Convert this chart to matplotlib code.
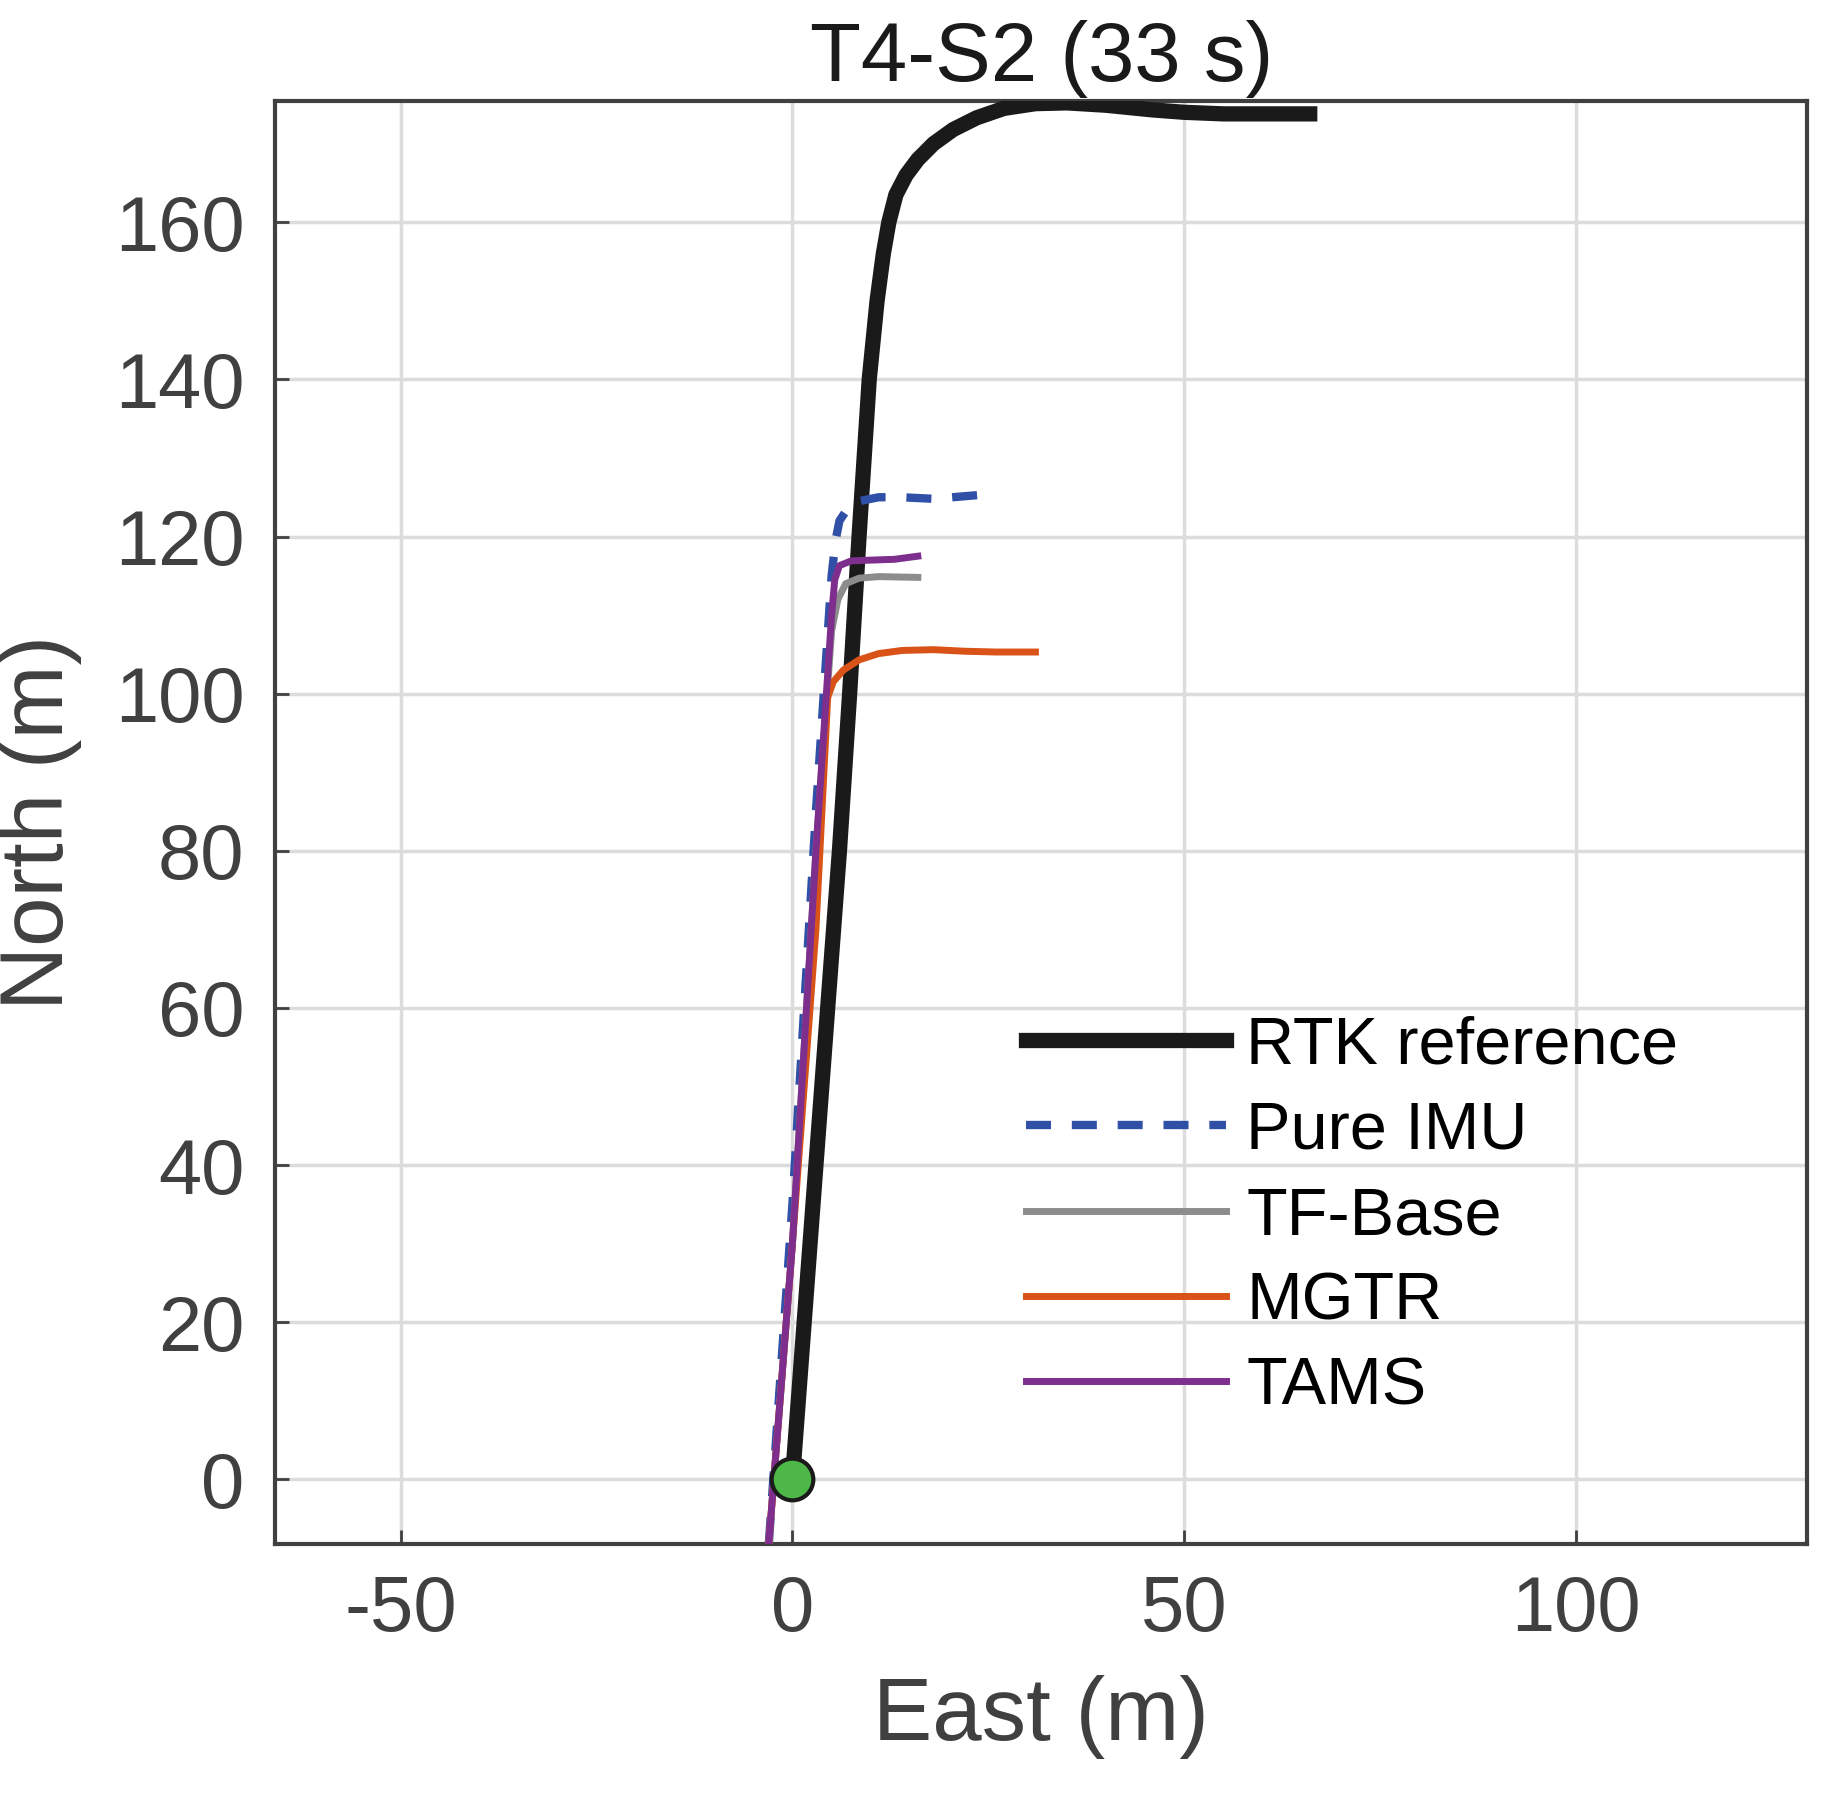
import matplotlib.pyplot as plt

plt.rcParams['font.family'] = ['Liberation Sans', 'DejaVu Sans']
plt.rcParams['axes.unicode_minus'] = False

# Trajectories (East, North) in metres
rtk_e = [0, 1.5, 3, 4.5, 6, 7.3, 8.5, 9.8, 10.8, 11.6, 12.3, 13.2, 14.5, 16, 18, 20.5, 23.5, 27, 31, 35, 40, 46, 50, 55, 66]
rtk_n = [0, 20, 40, 60, 80, 100, 120, 140, 150, 156, 160, 163.5, 166, 168, 170, 171.8, 173.3, 174.5, 175.1, 175.2, 174.9, 174.3, 174, 173.8, 173.8]

imu_e = [-3, 0, 3, 5, 5.5, 6, 7, 8.5, 11, 14, 18, 24]
imu_n = [-8, 35, 85, 115, 119.5, 122, 123.5, 124.5, 125, 125, 124.8, 125.3]

tf_e = [-3, 0, 3, 5, 5.8, 6.8, 8.5, 11, 16]
tf_n = [-8, 30, 80, 108, 112, 114, 114.7, 114.9, 114.8]

mgtr_e = [-3, 0, 3, 4.5, 5.2, 6.5, 8.5, 11, 14, 18, 22, 26, 31]
mgtr_n = [-8, 30, 70, 99.5, 101.5, 103, 104.3, 105.1, 105.5, 105.6, 105.4, 105.3, 105.3]

tams_e = [-3, 0, 3, 5, 5.4, 6, 7.5, 10, 13, 16]
tams_n = [-8, 30, 80, 110, 114.5, 116.3, 116.9, 117, 117.1, 117.5]

fig = plt.figure(figsize=(18.22, 17.95), dpi=100)
ax = fig.add_axes([0.151, 0.14, 0.841, 0.804])

ax.plot(rtk_e, rtk_n, color='#1a1a1a', lw=11, label='RTK reference', zorder=3, solid_joinstyle='round')
ax.plot(imu_e, imu_n, color='#3050a8', lw=6, ls=(0, (3, 2.5)), label='Pure IMU', zorder=4)
ax.plot(tf_e, tf_n, color='#8c8c8c', lw=5, label='TF-Base', zorder=4)
ax.plot(mgtr_e, mgtr_n, color='#d95319', lw=5, label='MGTR', zorder=4)
ax.plot(tams_e, tams_n, color='#7e2f8e', lw=5, label='TAMS', zorder=5)
ax.plot([0], [0], 'o', ms=30, mfc='#4db848', mec='#1a1a1a', mew=3, zorder=6)

ax.set_xlim(-66, 129.5)
ax.set_ylim(-8.2, 175.5)
ax.set_xticks([-50, 0, 50, 100])
ax.set_yticks(range(0, 161, 20))
ax.grid(True, color='#dcdcdc', lw=2.5)
ax.tick_params(labelsize=56, colors='#404040', length=10, width=2, direction='in', pad=22)
for s in ax.spines.values():
    s.set_color('#404040')
    s.set_linewidth(3)

ax.set_xlabel('East (m)', fontsize=64, color='#404040', labelpad=20)
ax.set_ylabel('North (m)', fontsize=64, color='#404040', labelpad=24)
ax.set_title('T4-S2 (33 s)', fontsize=60, color='#1a1a1a', pad=14)

ax.legend(loc='lower right', bbox_to_anchor=(0.955, 0.045), fontsize=48, frameon=False,
          handlelength=3.0, labelspacing=0.35, handletextpad=0.3)

fig.savefig('out.png', dpi=100)
